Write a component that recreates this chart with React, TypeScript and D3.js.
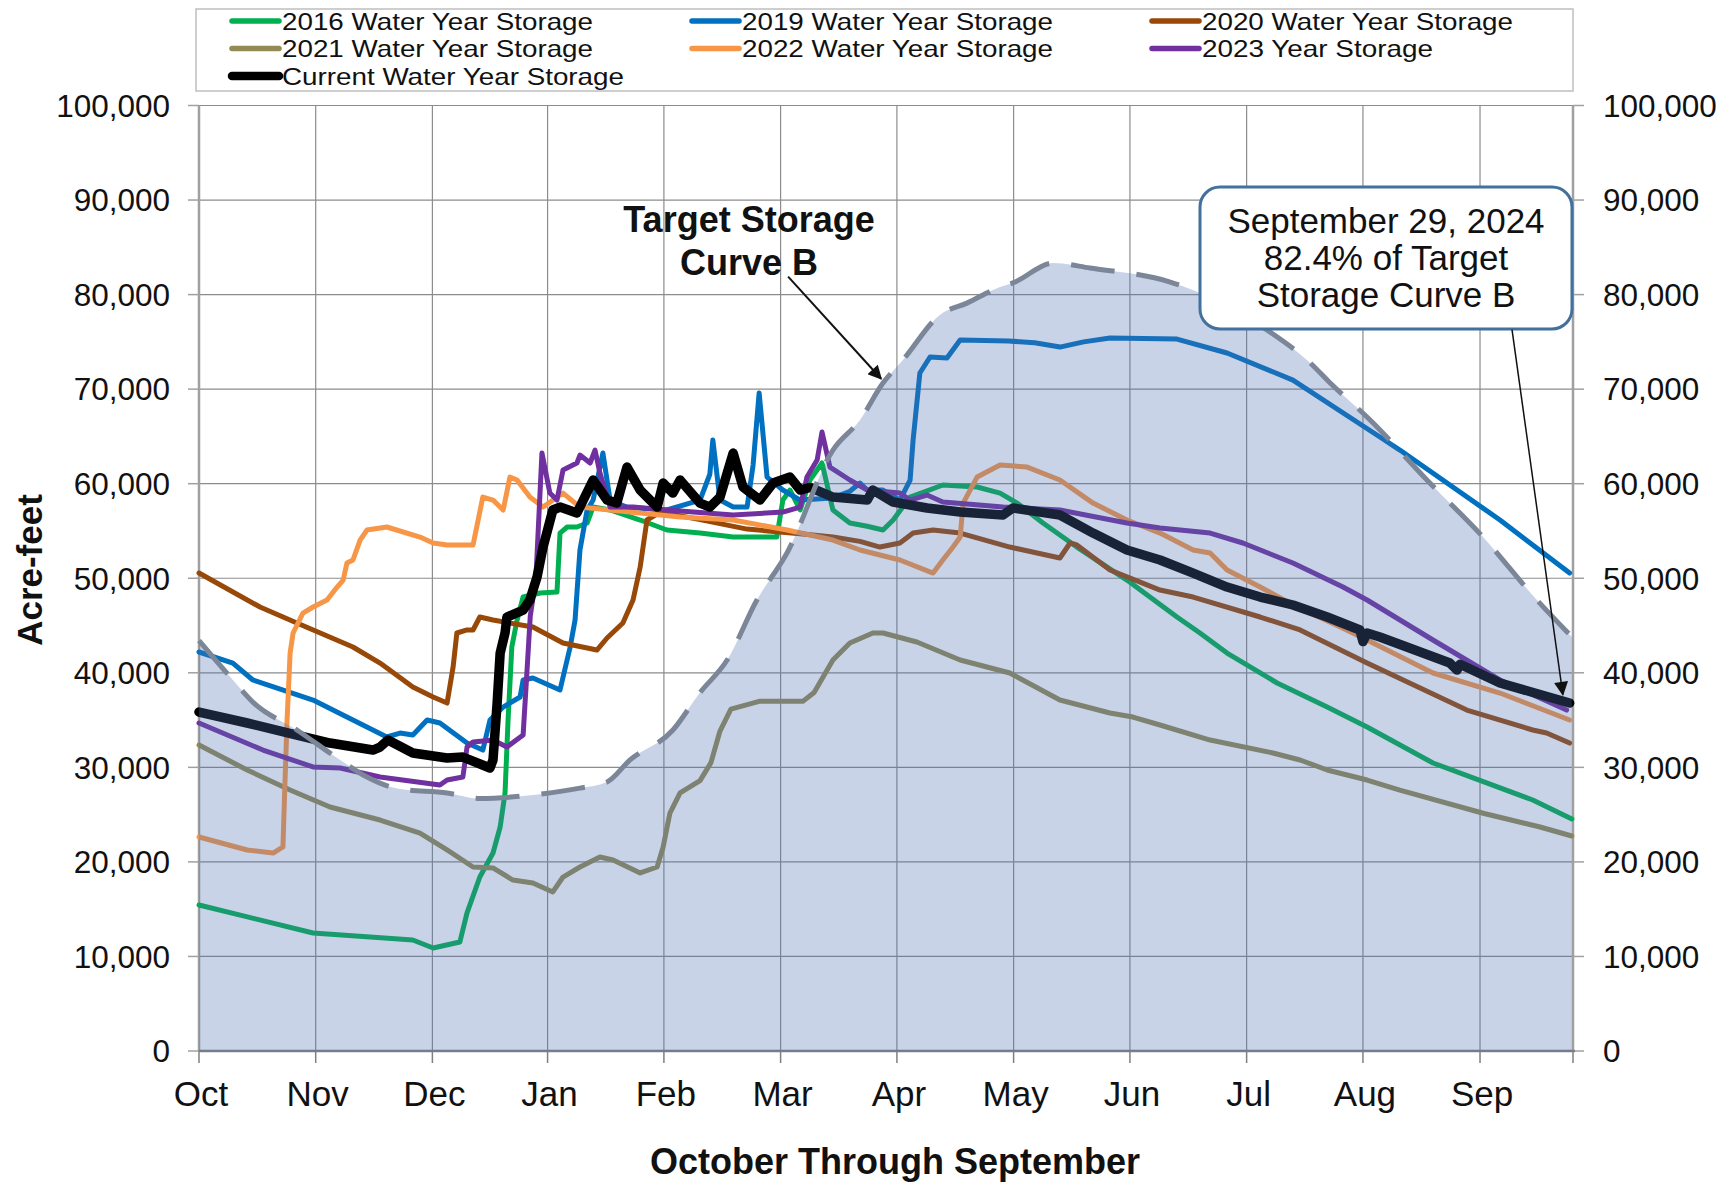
import React from 'react';
import * as d3 from 'd3';

type Pt = [number, number]; // [day of water year, acre-feet]

const monthLabels = ['Oct', 'Nov', 'Dec', 'Jan', 'Feb', 'Mar', 'Apr', 'May', 'Jun', 'Jul', 'Aug', 'Sep'];
const monthTickDays = [0, 31, 62, 92.6, 123.5, 154.5, 185.4, 216.4, 247.3, 278.3, 309.2, 340.3];
const yTickValues = [0, 10000, 20000, 30000, 40000, 50000, 60000, 70000, 80000, 90000, 100000];

const targetCurveB: Pt[] = [
  [0, 43400], [9, 39240], [14.3, 36900], [26, 33950], [37.5, 30780], [44.6, 28980], [53.4, 27700],
  [65.9, 27290], [74.6, 26700], [88.7, 27080], [101.2, 27800], [108.4, 28450], [114.5, 30780],
  [125.9, 33950], [133, 37860], [140.3, 41350], [148.2, 47700], [156.2, 52670], [168.4, 63560],
  [175.6, 66740], [181.7, 70650], [187, 73080], [196.8, 77840], [204, 79100], [212.8, 80800],
  [216.2, 81230], [226.9, 83340], [236.7, 82810], [258, 81330], [264, 80490], [283.7, 76260],
  [295.2, 72770], [300.5, 70650], [311.1, 66740], [326.2, 60390], [341.1, 54360], [355.4, 47700],
  [364.7, 43790],
];

const storage2016: Pt[] = [
  [0, 15440], [30.3, 12480], [56.8, 11740], [62.2, 10890], [69.3, 11530], [71.2, 14600], [74.6, 18400],
  [78.1, 20940], [80, 23690], [81.3, 27290], [82.1, 35000], [83.1, 42730], [84.5, 45580], [86.1, 48020],
  [90.6, 48440], [95.1, 48540], [95.9, 54780], [97.8, 55420], [100.4, 55420], [103.1, 55840],
  [104.7, 57530], [109.2, 57220], [117.2, 56160], [124.3, 55100], [133.1, 54780], [141.9, 54360],
  [153.5, 54360], [155.1, 58270], [157, 59330], [159.7, 57220], [162.3, 60390], [165.5, 62190],
  [168.4, 57220], [172.9, 55840], [177.5, 55500], [181.7, 55100], [184.4, 56160], [188.9, 58590],
  [197.6, 59860], [206.7, 59650], [212.8, 59010], [217.3, 57950], [224.2, 55840], [233.2, 53300],
  [246.5, 49810], [259.8, 45900], [265.9, 44210], [273.1, 42090], [286.4, 38920], [299.7, 36380],
  [310.3, 34270], [327.8, 30460], [354.3, 26550], [364.7, 24540],
];

const storage2019: Pt[] = [
  [0, 42200], [9, 41030], [14.3, 39240], [30.3, 37120], [39.3, 35320], [49.9, 33210], [53.4, 33630],
  [56.8, 33420], [60.6, 35010], [64, 34690], [71.2, 32570], [75.4, 31830], [77.3, 35010], [80.8, 36380],
  [85.3, 37440], [86.1, 39240], [88.7, 39450], [95.9, 38180], [98.6, 42730], [99.9, 45580],
  [101.2, 52990], [103.1, 57220], [104.7, 58270], [107.3, 63240], [109.2, 58270], [113.7, 57500],
  [124.3, 57220], [133.1, 58270], [135.7, 61000], [136.5, 64620], [138.4, 58270], [141.9, 57530],
  [145.6, 57530], [147.2, 62000], [148.8, 69590], [150.9, 60700], [155.1, 59330], [159.7, 58270],
  [168.4, 58500], [172.9, 59200], [175.6, 60070], [177.5, 59330], [181.7, 59330], [186.2, 58270],
  [188.9, 60390], [189.7, 64620], [191.5, 71710], [194.2, 73400], [198.7, 73300], [202.2, 75200],
  [215, 75100], [222, 74900], [228.7, 74450], [235, 75000], [242, 75410], [259.8, 75300],
  [273.1, 73820], [290.6, 70960], [313.7, 64940], [319, 63560], [345.6, 56160], [364.1, 50550],
];

const storage2020: Pt[] = [
  [0, 50550], [16.2, 46960], [26, 45270], [40.9, 42730], [48.1, 41030], [56.8, 38500], [62.2, 37440],
  [65.9, 36800], [67.5, 40610], [68.5, 44210], [71.2, 44530], [72.8, 44530], [74.6, 45900],
  [78.1, 45580], [88.7, 44840], [96.7, 43150], [105.7, 42410], [108.4, 43680], [112.6, 45270],
  [115.3, 47700], [117.2, 51190], [119, 56160], [122.5, 57000], [133.1, 56200], [145.6, 55200],
  [159.7, 54700], [168.4, 54360], [175.6, 53900], [180.9, 53300], [186.2, 53730], [189.7, 54780],
  [195, 55100], [202.2, 54780], [215.4, 53300], [228.7, 52140], [231.4, 53730], [233.2, 53520],
  [242, 50870], [255.3, 48750], [264.1, 48010], [281.9, 45900], [292.5, 44530], [310.3, 41030],
  [336.8, 36060], [354.3, 33950], [358, 33630], [364.1, 32570],
];

const storage2021: Pt[] = [
  [0, 32360], [12.8, 29720], [24.2, 27600], [34.8, 25810], [48.1, 24430], [58.7, 23050], [65.9, 21260],
  [72.8, 19460], [78.1, 19360], [83.4, 18080], [88.7, 17770], [94, 16820], [96.7, 18400],
  [101.2, 19460], [106.5, 20520], [110, 20200], [117.2, 18830], [121.7, 19460], [123.3, 21580],
  [125.1, 25170], [127.8, 27290], [133.1, 28600], [136, 30500], [138.4, 33840], [141.3, 36160],
  [148.8, 36980], [160.4, 36980], [163.4, 37910], [168.4, 41350], [172.9, 43150], [179, 44210],
  [181.7, 44210], [190.7, 43260], [202.2, 41350], [215.4, 39980], [228.7, 37120], [242, 35750],
  [248.1, 35320], [255.3, 34480], [268.6, 32890], [285.3, 31520], [292.5, 30780], [299.7, 29720],
  [310.3, 28660], [319, 27600], [341.4, 25120], [356, 23720], [364.7, 22740],
];

const storage2022: Pt[] = [
  [0, 22630], [12.8, 21260], [19.7, 20940], [22.3, 21580], [22.8, 28000], [23.4, 35010], [24.2, 42090],
  [25, 44210], [27.6, 46320], [30.3, 46960], [34, 47700], [36.7, 49070], [38.3, 49810], [39.3, 51610],
  [40.9, 51930], [42.8, 54040], [44.6, 55100], [49.9, 55420], [58.7, 54360], [62.2, 53730],
  [65.9, 53510], [72.8, 53510], [75.4, 58590], [78.1, 58270], [80.8, 57220], [82.6, 60700],
  [84.5, 60390], [87.9, 58590], [91.4, 57530], [96.7, 59010], [101.2, 57530], [127.8, 56480],
  [141.9, 56160], [156.2, 55100], [168.4, 54040], [175.6, 52990], [186.2, 51930], [195, 50550],
  [197.6, 51930], [200.3, 53300], [202.2, 54360], [203, 57950], [206.7, 60700], [212.8, 61980],
  [220, 61760], [228.7, 60390], [237.5, 57950], [246.5, 56160], [255.3, 54780], [264.1, 52990],
  [268.6, 52670], [273.1, 50870], [281.9, 49070], [290.6, 47200], [303.9, 44700], [310.3, 43470],
  [327.8, 39980], [345.6, 37860], [364.1, 35010],
];

const storage2023: Pt[] = [
  [0, 34690], [17, 31830], [30.3, 30040], [37.5, 29930], [48.1, 28980], [64, 28130], [65.9, 28660],
  [70.1, 28980], [71.2, 32150], [72.8, 32680], [78.1, 32890], [81.8, 32150], [86.1, 33420],
  [87.1, 40000], [88, 46000], [89.5, 50000], [91.1, 63240], [93.2, 59010], [95.1, 58270],
  [96.7, 61450], [100.4, 62190], [101.2, 63030], [103.9, 62190], [105.2, 63560], [106.5, 61130],
  [109.2, 57530], [115.3, 57530], [124.3, 57220], [141.9, 56690], [155.1, 57000], [159.7, 57530],
  [161.5, 60700], [164.2, 62500], [165.5, 65460], [167.6, 61760], [172.9, 60390], [177.5, 59330],
  [186.2, 59010], [188.9, 58270], [193.4, 58800], [197.6, 58060], [213.6, 57530], [228.7, 57220],
  [246.5, 55840], [255.3, 55310], [268.6, 54780], [277.3, 53730], [290.6, 51610], [303.9, 49070],
  [310.3, 47700], [327.8, 43470], [345.6, 39240], [363.3, 36060],
];

const storageCurrent: Pt[] = [
  [0, 35850], [12.8, 34690], [26, 33420], [34.8, 32570], [46.2, 31830], [48.1, 32150], [50.2, 32890],
  [56.8, 31520], [65.9, 30990], [70.1, 31090], [77.3, 29930], [78.1, 30780], [79.2, 36800],
  [80, 42090], [81.3, 44210], [81.8, 45900], [86.1, 46640], [87.9, 47700], [89.8, 50130],
  [91.4, 53300], [94, 57220], [95.9, 57530], [100.4, 56900], [104.7, 60390], [108.4, 58270],
  [111, 57950], [113.7, 61760], [117.2, 59330], [121.7, 57530], [123.3, 60070], [125.9, 59010],
  [127.8, 60390], [133.1, 57950], [135.7, 57530], [138.4, 58590], [141.9, 63240], [144.5, 59650],
  [149, 58270], [152.5, 60070], [157, 60700], [159.7, 59330], [162.3, 59600], [168.4, 58590],
  [177.5, 58270], [179, 59330], [184.4, 58060], [193.4, 57430], [202.2, 57000], [213.6, 56690],
  [216.2, 57430], [228.7, 56690], [237.5, 54780], [246.5, 52990], [255.3, 51930], [264.1, 50550],
  [273.1, 49070], [281.9, 48010], [290.6, 47170], [299.7, 45900], [308.4, 44530], [309.2, 43300],
  [310.3, 44210], [313.7, 43790], [332.3, 41030], [334.2, 40290], [335, 40900], [345.6, 38920],
  [364.1, 36800],
];

const series = [
  { name: '2016 Water Year Storage', data: storage2016, color: '#00b050', width: 5, textLen: 311 },
  { name: '2019 Water Year Storage', data: storage2019, color: '#0070c0', width: 5, textLen: 311 },
  { name: '2020 Water Year Storage', data: storage2020, color: '#984807', width: 5, textLen: 311 },
  { name: '2021 Water Year Storage', data: storage2021, color: '#948a54', width: 5, textLen: 311 },
  { name: '2022 Water Year Storage', data: storage2022, color: '#f79646', width: 5, textLen: 311 },
  { name: '2023 Year Storage', data: storage2023, color: '#7030a0', width: 5, textLen: 231 },
  { name: 'Current Water Year Storage', data: storageCurrent, color: '#000000', width: 9.5, textLen: 342 },
];

const FONT = '"Liberation Sans", Arial, Helvetica, sans-serif';

export default function App() {
  const width = 1724;
  const height = 1185;
  const x = d3.scaleLinear().domain([0, 365]).range([199, 1573]);
  const y = d3.scaleLinear().domain([0, 100000]).range([1051, 105.5]);
  const fmt = d3.format(',');

  const line = d3.line<Pt>().x(d => x(d[0])).y(d => y(d[1]));
  const smooth = d3.line<Pt>().x(d => x(d[0])).y(d => y(d[1])).curve(d3.curveMonotoneX);
  const area = d3.area<Pt>().x(d => x(d[0])).y0(y(0)).y1(d => y(d[1])).curve(d3.curveMonotoneX);

  const [x0, x1] = x.range();
  const [yb, yt] = y.range();

  // legend grid: 3 columns, 3 rows
  const legendCols = [229, 689, 1149];
  const legendRows = [21, 48.5, 76];

  // annotation anchors in data units
  const targetArrow = { from: [156.5, 81900] as Pt, to: [181.2, 71100] as Pt };
  const last = storageCurrent[storageCurrent.length - 1];
  const calloutArrow = { from: [348.8, 76300] as Pt, to: [last[0] - 1.8, last[1] + 900] as Pt };

  return (
    <svg width={width} height={height} style={{ position: 'absolute', left: 0, top: 0, background: '#fff' }}
      fontFamily={FONT}>
      <defs>
        <marker id="arrowBig" viewBox="0 0 10 10" refX="9" refY="5" markerWidth="16" markerHeight="14"
          markerUnits="userSpaceOnUse" orient="auto">
          <path d="M0,0 L10,5 L0,10 z" fill="#111" />
        </marker>
      </defs>
      <rect x={0} y={0} width={width} height={height} fill="#fff" />

      {/* gridlines */}
      <g stroke="#8c8c8c" strokeWidth={1.2}>
        {yTickValues.filter(v => v > 0).map(v => (
          <line key={'h' + v} x1={x0} x2={x1} y1={y(v)} y2={y(v)} />
        ))}
        {monthTickDays.slice(1).map(d => (
          <line key={'v' + d} x1={x(d)} x2={x(d)} y1={yt} y2={yb} />
        ))}
      </g>

      {/* axes lines and ticks */}
      <g stroke="#a0a0a0" strokeWidth={2.5}>
        <line x1={x0} x2={x0} y1={yt} y2={yb} />
        <line x1={x1} x2={x1} y1={yt} y2={yb} />
        {yTickValues.map(v => (
          <g key={'t' + v}>
            <line x1={x0 - 11} x2={x0} y1={y(v)} y2={y(v)} strokeWidth={1.5} />
            <line x1={x1} x2={x1 + 11} y1={y(v)} y2={y(v)} strokeWidth={1.5} />
          </g>
        ))}
      </g>
      <g stroke="#7f7f7f" strokeWidth={1.5}>
        <line x1={x0} x2={x1 + 2} y1={yb} y2={yb} strokeWidth={2.5} />
        {monthTickDays.map(d => (
          <line key={'bt' + d} x1={x(d)} x2={x(d)} y1={yb} y2={yb + 12} />
        ))}
        <line x1={x1} x2={x1} y1={yb} y2={yb + 12} />
      </g>

      {/* storage series */}
      <g fill="none" strokeLinejoin="round" strokeLinecap="round">
        {series.map(s => (
          <path key={s.name} d={line(s.data) || ''} stroke={s.color} strokeWidth={s.width} />
        ))}
      </g>

      {/* target storage curve B area, drawn translucent over the series */}
      <path d={area(targetCurveB) || ''} fill="rgb(79,112,176)" fillOpacity={0.31} />
      <path d={smooth(targetCurveB) || ''} fill="none" stroke="#7b8798" strokeWidth={5}
        strokeDasharray="44 22" />

      {/* y tick labels */}
      <g fontSize={31.5} fill="#111">
        {yTickValues.map(v => (
          <g key={'yl' + v}>
            <text x={170} y={y(v)} dy="0.36em" textAnchor="end">{fmt(v)}</text>
            <text x={1603} y={y(v)} dy="0.36em" textAnchor="start">{fmt(v)}</text>
          </g>
        ))}
      </g>

      {/* month labels */}
      <g fontSize={35} fill="#111" textAnchor="middle">
        {monthLabels.map((m, i) => (
          <text key={m} x={x(monthTickDays[i]) + 2} y={1106}>{m}</text>
        ))}
      </g>

      {/* axis titles */}
      <text x={895} y={1174} fontSize={36} fontWeight="bold" textAnchor="middle" fill="#111">
        October Through September
      </text>
      <text transform="translate(42,570) rotate(-90)" fontSize={35} fontWeight="bold" textAnchor="middle"
        fill="#111">Acre-feet</text>

      {/* Target Storage annotation */}
      <g fontSize={36} fontWeight="bold" textAnchor="middle" fill="#111">
        <text x={749} y={232}>Target Storage</text>
        <text x={749} y={275}>Curve B</text>
      </g>
      <line x1={x(targetArrow.from[0])} y1={y(targetArrow.from[1])} x2={x(targetArrow.to[0])}
        y2={y(targetArrow.to[1])} stroke="#111" strokeWidth={2} markerEnd="url(#arrowBig)" />

      {/* callout */}
      <rect x={1200} y={187} width={372} height={142} rx={20} ry={20} fill="#fff" stroke="#41719c"
        strokeWidth={3} />
      <g fontSize={35} textAnchor="middle" fill="#111">
        <text x={1386} y={233}>September 29, 2024</text>
        <text x={1386} y={270}>82.4% of Target</text>
        <text x={1386} y={307}>Storage Curve B</text>
      </g>
      <line x1={x(calloutArrow.from[0])} y1={y(calloutArrow.from[1])} x2={x(calloutArrow.to[0])}
        y2={y(calloutArrow.to[1])} stroke="#111" strokeWidth={1.5} markerEnd="url(#arrowBig)" />

      {/* legend */}
      <rect x={196} y={9} width={1377} height={82} fill="#fff" stroke="#bfbfbf" strokeWidth={1.5} />
      {series.map((s, i) => {
        const cx = legendCols[i % 3];
        const cy = legendRows[Math.floor(i / 3)];
        return (
          <g key={'lg' + s.name}>
            <line x1={cx + 3} x2={cx + 50} y1={cy} y2={cy} stroke={s.color}
              strokeWidth={s.width > 6 ? 8.5 : 5.5} strokeLinecap="round" />
            <text x={cx + 53} y={cy} dy="0.36em" fontSize={24} fill="#111" textLength={s.textLen}
              lengthAdjust="spacingAndGlyphs">{s.name}</text>
          </g>
        );
      })}
    </svg>
  );
}
